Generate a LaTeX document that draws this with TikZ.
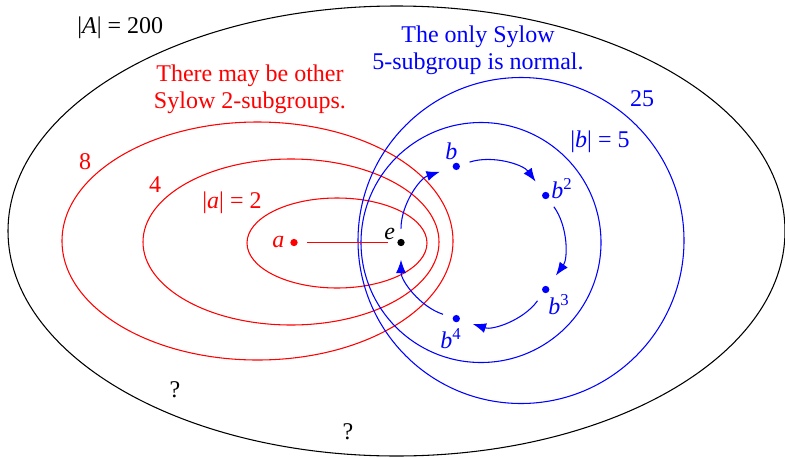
\documentclass[tikz,border=0pt]{standalone}
\usepackage{fontspec}
\setmainfont{Liberation Serif}
\usetikzlibrary{arrows.meta}
\newcommand{\spow}[1]{\raisebox{0.8ex}{\fontsize{12.5}{13}\selectfont #1}}

\begin{document}
\begin{tikzpicture}[x=0.75pt,y=0.75pt,yscale=-1,xscale=1,
  font=\fontsize{18}{20.25}\selectfont,
  every node/.style={inner sep=0.75pt},
  dot/.style={circle,fill,inner sep=0pt,minimum size=5.5pt},
  ring/.style={line width=0.8pt},
  barrow/.style={blue,line width=0.8pt,-{Latex[length=10pt,width=7.5pt]},shorten <=7.5pt,shorten >=10pt}]
\useasboundingbox (0,0) rectangle (785,457);
\draw [ring] (396.5,231) ellipse [x radius=388.5,y radius=225];
\draw [ring,red] (257.5,241) ellipse [x radius=195.5,y radius=119];
\draw [ring,red] (291,242) ellipse [x radius=148,y radius=83];
\draw [ring,red] (337,243) ellipse [x radius=90,y radius=45];
\draw [ring,blue] (521,240.5) circle [radius=163];
\draw [ring,blue] (481,242.5) circle [radius=120];
\node [dot,red] (a) at (294,242.5) {};
\node [dot] (e) at (401,242.5) {};
\node [dot,blue] (b) at (456.3,166.4) {};
\node [dot,blue] (b2) at (545.7,195.5) {};
\node [dot,blue] (b3) at (545.7,289.5) {};
\node [dot,blue] (b4) at (456.3,318.6) {};
\draw [red,line width=0.8pt,shorten <=7pt,shorten >=6.5pt] (a) -- (e);
\draw [barrow] (e) to [bend right=36] (b);
\draw [barrow] (b) to [bend right=36] (b2);
\draw [barrow] (b2) to [bend right=36] (b3);
\draw [barrow] (b3) to [bend right=36] (b4);
\draw [barrow] (b4) to [bend right=36] (e);
\node [anchor=base west,red] (alab) at (271,247) {\textit{a}};
\node [anchor=base west] (elab) at (383,239) {\textit{e}};
\node [anchor=base west,blue] (blab) at (444,159) {\textit{b}};
\node [anchor=base west,blue] (b2lab) at (550,198) {\textit{b}\spow{2}};
\node [anchor=base west,blue] (b3lab) at (547,314) {\textit{b}\spow{3}};
\node [anchor=base west,blue] (b4lab) at (439,348) {\textit{b}\spow{4}};
\node [anchor=base west] (ordA) at (76,33) {|\textit{A}| = 200};
\node [red,align=center] (note2) at (250,89) {There may be other\\Sylow 2-subgroups.};
\node [blue,align=center] (note5) at (478,50) {The only Sylow\\5-subgroup is normal.};
\node [red] (o8) at (85,162) {8};
\node [red] (o4) at (155,185) {4};
\node [red] (orda) at (232,203) {|\textit{a}| = 2};
\node [blue] (o25) at (642,99) {25};
\node [blue] (ordb) at (600,142) {|\textit{b}| = 5};
\node (q1) at (175,390) {?};
\node (q2) at (348,432) {?};
\end{tikzpicture}
\end{document}
